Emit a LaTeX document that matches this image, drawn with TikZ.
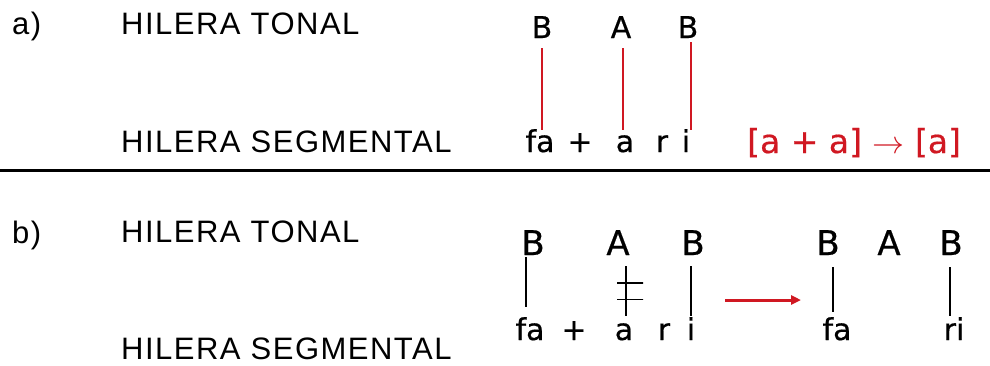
\documentclass[tikz,border=0pt]{standalone}
\usepackage{fontspec}
\usepackage{graphicx}
\usepackage{tikz}
\usetikzlibrary{arrows.meta}
\newfontfamily\labfont{Liberation Sans}
\newfontfamily\glossfont[FakeBold=0.5]{DejaVu Sans}
\definecolor{tiered}{RGB}{208,24,34}
\newcommand\rulearrow{{\fontsize{10}{12}\selectfont\scalebox{3.2}{$\rightarrow$}}}

\begin{document}
\begin{tikzpicture}[x=1pt,y=-1pt,
  lbl/.style={font=\labfont\fontsize{31}{36}\selectfont\addfontfeatures{LetterSpace=4.8},anchor=base west,inner sep=0pt},
  toneA/.style={font=\glossfont\fontsize{30}{34}\selectfont,anchor=base,inner sep=0pt},
  toneB/.style={font=\glossfont\fontsize{34}{38}\selectfont,anchor=base,inner sep=0pt},
  seg/.style={font=\glossfont\fontsize{30}{34}\selectfont,anchor=base,inner sep=0pt,text height=22pt},
  redtie/.style={color=tiered,line width=1.3pt},
  tie/.style={color=black,line width=1.5pt},
  bar/.style={draw=black,line width=1.5pt,rectangle,minimum width=26pt,minimum height=0pt,inner sep=0pt},
  redarrow/.style={color=tiered,line width=3pt,-{Triangle[length=10pt,width=9pt]}}]
\useasboundingbox (0,0) rectangle (990,365);

% Labels
\node[lbl] (la) at (12,34) {a)};
\node[lbl] (laT) at (121,34) {HILERA TONAL};
\node[lbl] (laS) at (121,152) {HILERA SEGMENTAL};
\node[lbl] (lb) at (12,243) {b)};
\node[lbl] (lbT) at (121,242) {HILERA TONAL};
\node[lbl] (lbS) at (121,359) {HILERA SEGMENTAL};

% Separator
\draw[line width=3pt] (0,170) -- (990,170);

% a) tonal tier
\node[toneA] (aB1) at (542,38) {B};
\node[toneA] (aA) at (621,38) {A};
\node[toneA] (aB2) at (688,38) {B};
% a) segmental tier
\node[seg] (afa) at (540,152) {fa};
\node[seg] (aplus) at (580,152) {+};
\node[seg] (aa) at (625,152) {a};
\node[seg] (ar) at (662,152) {r};
\node[seg] (ai) at (686,152) {i};
% a) rule
\node[font=\glossfont\fontsize{33}{38}\selectfont,anchor=base west,inner sep=0pt,text=tiered] (arule) at (747,153) {[a + a] \rulearrow{} [a]};

% a) association lines
\draw[redtie,shorten <=10pt] (aB1.south) -- (aB1.south |- afa.north);
\draw[redtie,shorten <=10pt] ([xshift=2pt]aA.south) -- ([xshift=2pt]aA.south |- afa.north);
\draw[redtie,shorten <=4pt] ([xshift=3pt]aB2.south) -- ([xshift=3pt]aB2.south |- afa.north);

% b) tonal tier, input
\node[toneB] (bB1) at (533,255) {B};
\node[toneB] (bA) at (618,255) {A};
\node[toneB] (bB2) at (693,255) {B};
% b) segmental tier, input
\node[seg] (bfa) at (530,340) {fa};
\node[seg] (bplus) at (574,340) {+};
\node[seg] (ba) at (624,340) {a};
\node[seg] (br) at (664,340) {r};
\node[seg] (bi) at (691,340) {i};

% b) association lines, input
\draw[tie,shorten <=2pt,shorten >=11pt] ([xshift=-7pt]bB1.south) -- ([xshift=-7pt]bB1.south |- bfa.north);
\draw[tie,shorten <=11pt,shorten >=2pt] ([xshift=8pt]bA.south) -- node[bar,pos=0.44,xshift=4pt] (bx1) {} node[bar,pos=0.71,xshift=4pt] (bx2) {} ([xshift=8pt]bA.south |- bfa.north);
\draw[tie,shorten <=11pt,shorten >=2pt] ([xshift=-2pt]bB2.south) -- ([xshift=-2pt]bB2.south |- bfa.north);

% b) rule arrow
\coordinate (arrS) at (725,300);
\coordinate (arrE) at (801,300);
\draw[redarrow] (arrS) -- (arrE);

% b) tonal tier, output
\node[toneB] (bB3) at (828,255) {B};
\node[toneB] (bA2) at (889,255) {A};
\node[toneB] (bB4) at (951,255) {B};
% b) segmental tier, output
\node[seg] (bfa2) at (837,340) {fa};
\node[seg] (bri) at (954,340) {ri};

% b) association lines, output
\draw[tie,shorten <=12pt,shorten >=6pt] ([xshift=5pt]bB3.south) -- ([xshift=5pt]bB3.south |- bfa2.north);
\draw[tie,shorten <=12pt,shorten >=2pt] ([xshift=-1pt]bB4.south) -- ([xshift=-1pt]bB4.south |- bri.north);

\end{tikzpicture}
\end{document}
